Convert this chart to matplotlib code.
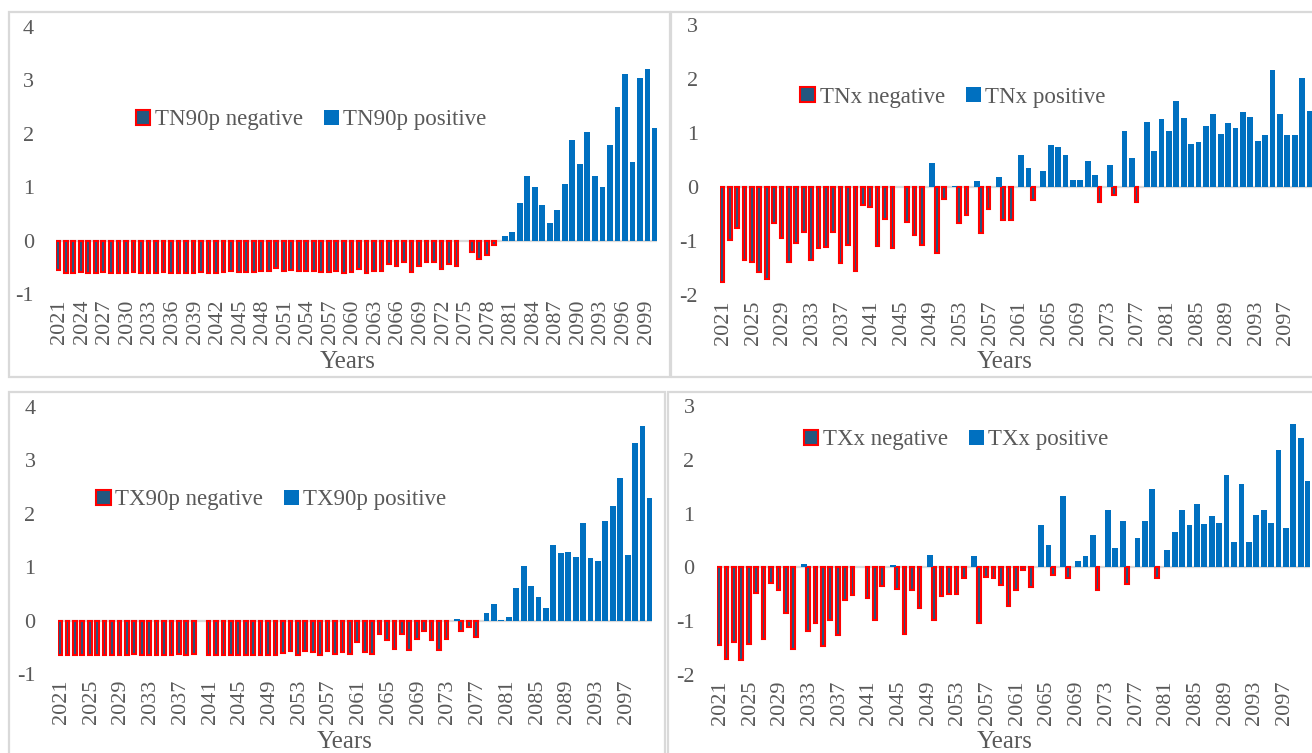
import matplotlib
matplotlib.use("Agg")
import matplotlib.pyplot as plt
import numpy as np
from matplotlib.patches import Patch, Rectangle

plt.rcParams['font.family'] = ['Liberation Serif', 'DejaVu Serif']
plt.rcParams['axes.unicode_minus'] = False

# ---------------- data ----------------
years = list(range(2021, 2101))

# signed annual anomalies (negative -> "negative" series, positive -> "positive" series)
tn90p_values = [
    -0.55, -0.60, -0.60, -0.59, -0.60, -0.60, -0.59, -0.60, -0.60, -0.60,   # 2021-2030
    -0.59, -0.60, -0.60, -0.60, -0.59, -0.60, -0.60, -0.60, -0.60, -0.59,   # 2031-2040
    -0.60, -0.60, -0.59, -0.56, -0.59, -0.59, -0.59, -0.57, -0.56, -0.51,   # 2041-2050
    -0.57, -0.55, -0.57, -0.57, -0.56, -0.59, -0.59, -0.56, -0.61, -0.59,   # 2051-2060
    -0.53, -0.61, -0.56, -0.56, -0.44, -0.47, -0.40, -0.59, -0.47, -0.40,   # 2061-2070
    -0.40, -0.53, -0.44, -0.47, 0.00, -0.22, -0.34, -0.26, -0.08, 0.09,     # 2071-2080
    0.16, 0.70, 1.21, 1.01, 0.67, 0.33, 0.58, 1.06, 1.89, 1.43,             # 2081-2090
    2.04, 1.21, 1.01, 1.78, 2.50, 3.11, 1.47, 3.05, 3.21, 2.11,             # 2091-2100
]

tnx_values = [
    -1.75, -0.98, -0.75, -1.34, -1.38, -1.57, -1.69, -0.67, -0.94, -1.38,   # 2021-2030
    -1.04, -0.83, -1.34, -1.12, -1.10, -0.83, -1.41, -1.07, -1.55, -0.33,   # 2031-2040
    -0.37, -1.09, -0.58, -1.13, 0.00, -0.65, -0.88, -1.07, 0.45, -1.22,     # 2041-2050
    -0.22, 0.03, -0.67, -0.51, 0.11, -0.84, -0.41, 0.20, -0.61, -0.61,      # 2051-2060
    0.60, 0.36, -0.24, 0.31, 0.79, 0.75, 0.60, 0.14, 0.14, 0.48,            # 2061-2070
    0.22, -0.27, 0.41, -0.15, 1.04, 0.54, -0.27, 1.21, 0.67, 1.27,          # 2071-2080
    1.04, 1.59, 1.29, 0.81, 0.83, 1.14, 1.36, 0.99, 1.19, 1.09,             # 2081-2090
    1.40, 1.30, 0.86, 0.96, 2.17, 1.35, 0.96, 0.96, 2.03, 1.41,             # 2091-2100
]

tx90p_values = [
    -0.65, -0.65, -0.65, -0.65, -0.65, -0.65, -0.65, -0.64, -0.65, -0.65,   # 2021-2030
    -0.63, -0.65, -0.65, -0.65, -0.65, -0.65, -0.62, -0.65, -0.63, 0.00,    # 2031-2040
    -0.65, -0.65, -0.65, -0.65, -0.65, -0.65, -0.65, -0.65, -0.65, -0.64,   # 2041-2050
    -0.61, -0.57, -0.65, -0.57, -0.59, -0.65, -0.57, -0.62, -0.59, -0.62,   # 2051-2060
    -0.40, -0.59, -0.62, -0.24, -0.36, -0.53, -0.25, -0.55, -0.34, -0.19,   # 2061-2070
    -0.36, -0.55, -0.34, 0.04, -0.19, -0.12, -0.30, 0.14, 0.32, 0.02,       # 2071-2080
    0.06, 0.62, 1.02, 0.64, 0.45, 0.24, 1.42, 1.27, 1.29, 1.20,             # 2081-2090
    1.82, 1.17, 1.12, 1.87, 2.14, 2.67, 1.23, 3.32, 3.64, 2.29,             # 2091-2100
]

txx_values = [
    -1.44, -1.71, -1.40, -1.73, -1.42, -0.47, -1.34, -0.29, -0.43, -0.86,   # 2021-2030
    -1.53, 0.06, -1.18, -1.04, -1.46, -0.99, -1.27, -0.60, -0.52, 0.00,     # 2031-2040
    -0.57, -0.99, -0.35, 0.04, -0.40, -1.25, -0.43, -0.75, 0.23, -0.99,     # 2041-2050
    -0.54, -0.49, -0.49, -0.20, 0.21, -1.04, -0.18, -0.20, -0.33, -0.72,    # 2051-2060
    -0.43, -0.05, -0.37, 0.79, 0.42, -0.14, 1.33, -0.20, 0.11, 0.21,        # 2061-2070
    0.61, -0.43, 1.07, 0.36, 0.86, -0.32, 0.55, 0.86, 1.45, -0.20,          # 2071-2080
    0.32, 0.65, 1.07, 0.78, 1.18, 0.80, 0.95, 0.82, 1.71, 0.47,             # 2081-2090
    1.56, 0.48, 0.97, 1.07, 0.82, 2.18, 0.73, 2.67, 2.40, 1.60,             # 2091-2100
]

legend_tn90p = ["TN90p negative", "TN90p positive"]
legend_tnx = ["TNx negative", "TNx positive"]
legend_tx90p = ["TX90p negative", "TX90p positive"]
legend_txx = ["TXx negative", "TXx positive"]
x_title = "Years"

# ---------------- style ----------------
RED = "#FF0000"
NEG_FILL = "#24577F"
BLUE = "#0070C0"
TXT = "#595959"
BORDER = "#D9D9D9"

W, H = 1312, 753
fig = plt.figure(figsize=(W / 100, H / 100), dpi=100)
fig.patch.set_facecolor("white")


def px_axes(x0, y0, x1, y1):
    return fig.add_axes([x0 / W, 1 - y1 / H, (x1 - x0) / W, (y1 - y0) / H])


def border(x0, y0, x1, y1):
    fig.patches.append(Rectangle((x0 / W, 1 - y1 / H), (x1 - x0) / W, (y1 - y0) / H,
                                 transform=fig.transFigure, fill=False,
                                 edgecolor=BORDER, linewidth=1.6, zorder=0))


def panel(box, values, ylim, step, names, leg_center, xlab_px):
    x0, y0, x1, y1 = box
    ax = px_axes(x0, y0, x1, y1)
    ax.set_facecolor("none")
    yrs = np.array(years)
    v = np.array(values)
    neg_mask = v < 0
    pos_mask = v > 0
    ax.axhline(0, color=BORDER, linewidth=1.6, zorder=1)
    ax.bar(yrs[neg_mask] - 0.2, v[neg_mask], width=0.5, facecolor=NEG_FILL,
           edgecolor=RED, linewidth=1.5, zorder=2)
    ax.bar(yrs[pos_mask] + 0.2, v[pos_mask], width=0.78, color=BLUE,
           linewidth=0, zorder=2)
    ax.set_xlim(2020.5, 2100.5)
    ax.set_ylim(*ylim)
    ax.set_yticks(range(ylim[0], ylim[1] + 1))
    ax.set_xticks(years[::step])
    ax.set_xticklabels([str(y) for y in years[::step]], rotation=90)
    for s in ax.spines.values():
        s.set_visible(False)
    ax.tick_params(axis='both', length=0, colors=TXT, labelsize=16)
    ax.tick_params(axis='y', pad=16)
    ax.tick_params(axis='x', pad=4)
    ax.set_xlabel(x_title, fontsize=18, color=TXT)
    ax.xaxis.label.set_va('baseline')
    lx, ly = xlab_px
    ax.xaxis.set_label_coords((lx - x0) / (x1 - x0), (y1 - ly) / (y1 - y0))
    handles = [Patch(facecolor=NEG_FILL, edgecolor=RED, linewidth=1.5),
               Patch(facecolor=BLUE, edgecolor=BLUE, linewidth=0)]
    cx, cy = leg_center
    ax.legend(handles, names, loc='center', bbox_to_anchor=(cx / W, 1 - cy / H),
              bbox_transform=fig.transFigure, ncol=2, frameon=False,
              fontsize=16.5, handlelength=0.65, handleheight=0.65,
              handletextpad=0.2, columnspacing=0.9, labelcolor=TXT,
              borderpad=0.1)
    return ax


# panel frames
border(9, 12, 670, 377)
border(671, 12, 1330, 377)
border(9, 392, 665, 770)
border(668, 392, 1330, 770)

panel((56.0, 26.7, 657.3, 294.2), tn90p_values, (-1, 4), 3, legend_tn90p, (311, 120), (348, 368))
panel((720.1, 25.3, 1311.7, 295.3), tnx_values, (-2, 3), 4, legend_tnx, (953, 97), (1005, 368))
panel((57.8, 406.7, 652.2, 674.2), tx90p_values, (-1, 4), 4, legend_tx90p, (271, 500), (345, 748))
panel((716.8, 406.2, 1310.4, 674.7), txx_values, (-2, 3), 4, legend_txx, (956, 440), (1005, 748))

fig.savefig("out.png", dpi=100, facecolor="white")
